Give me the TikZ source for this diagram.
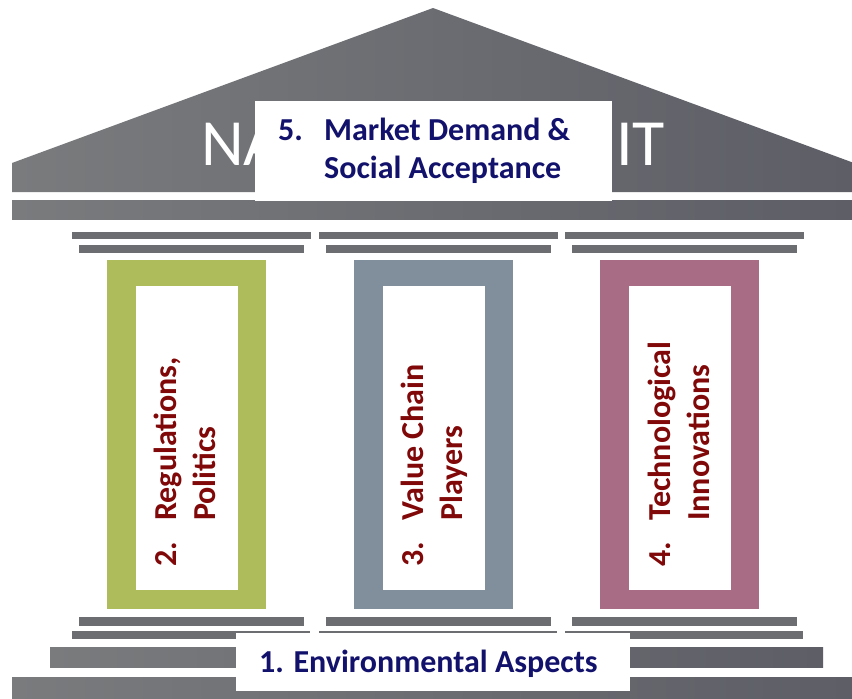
\documentclass[tikz,border=0pt]{standalone}
\usepackage{fontspec}
\setmainfont{Carlito}
\definecolor{roofL}{HTML}{797B7D}
\definecolor{roofR}{HTML}{5D5E66}
\definecolor{barC}{HTML}{6C6D71}
\definecolor{colG}{HTML}{AEBC5B}
\definecolor{colB}{HTML}{818E9B}
\definecolor{colM}{HTML}{A86D84}
\definecolor{txtB}{RGB}{18,18,108}
\definecolor{txtR}{RGB}{128,8,8}
\newcommand\pillartext[3]{\begin{tabular}[t]{@{}p{46pt}@{}l@{}}#1&#2\\&#3\end{tabular}}
\tikzset{
  grad/.style={left color=roofL,right color=roofR},
  barstyle/.style={fill=barC},
  pillarlabel/.style={rotate=90,anchor=base west,inner sep=0pt,text=txtR,font=\bfseries\fontsize{32}{39.5}\selectfont},
  boxlabel/.style={anchor=base west,inner sep=0pt,text=txtB,font=\bfseries\fontsize{32}{38}\selectfont},
  rooftext/.style={inner sep=0pt,text=white,font=\fontsize{66}{66}\selectfont}
}
\begin{document}
\begin{tikzpicture}[x=1pt,y=-1pt]
\useasboundingbox (0,0) rectangle (852,699);
\fill[white] (0,0) rectangle (852,699);
% roof
\shade[grad] (12,192) -- (12,163) -- (433,8) -- (854,163) -- (854,192) -- cycle;
\node[rooftext,anchor=base west] (na) at (201,165) {NA};
\node[rooftext,anchor=base east] (it) at (665,165) {IT};
% beam
\shade[grad] (12,200) rectangle (854,219);
% pillars
\foreach \i/\c in {0/colG,1/colB,2/colM}{
  \begin{scope}[xshift=246.5*\i]
    \fill[barstyle] (72,232) rectangle (311,239);
    \fill[barstyle] (79,245) rectangle (304,253);
    \fill[\c] (107,260) rectangle (266,609);
    \fill[white] (136,286) rectangle (238,590);
    \fill[barstyle] (79,617) rectangle (304,626);
    \fill[barstyle] (72,631) rectangle (310,639);
  \end{scope}
}
% step and base
\shade[grad] (50,647) rectangle (823,667);
\shade[grad] (12,677) rectangle (854,700);
% market box
\fill[white] (255,101) rectangle (612,201);
\node[boxlabel] (market) at (278,140) {\pillartext{5.}{Market Demand \&}{Social Acceptance}};
% environment box
\fill[white] (236,633) rectangle (630,691);
\node[boxlabel] (env) at (259,672) {1. Environmental Aspects};
% pillar labels
\node[pillarlabel] (p2) at (176,567) {\pillartext{2.}{Regulations,}{Politics}};
\node[pillarlabel] (p3) at (423,567) {\pillartext{3.}{Value Chain}{Players}};
\node[pillarlabel] (p4) at (670,567) {\pillartext{4.}{Technological}{Innovations}};
\end{tikzpicture}
\end{document}
